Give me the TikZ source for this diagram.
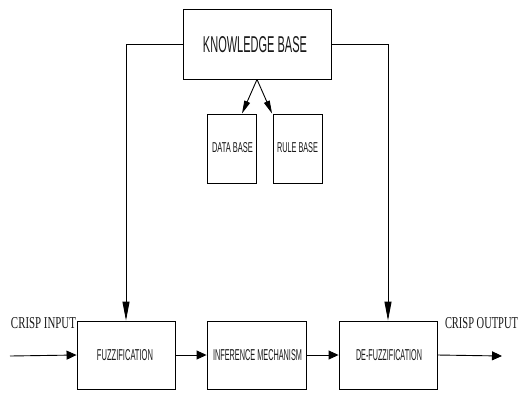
\documentclass[tikz,border=0pt]{standalone}
\usepackage{fontspec}
\setmainfont{Liberation Serif}
\setsansfont{Liberation Sans}
\usetikzlibrary{arrows.meta}
\newcommand{\fitT}[3]{\resizebox{#1pt}{#2pt}{#3}}
\begin{document}
\begin{tikzpicture}[x=1pt,y=-1pt,
  blk/.style={draw=black,line width=0.9pt,inner sep=0pt,fill=white},
  lbl/.style={inner sep=0pt,text=black!90,font=\sffamily},
  crisp/.style={inner sep=0pt,text=black!90,font=\rmfamily},
  conn/.style={draw=black,line width=0.9pt},
  harr/.style={conn,-{Triangle[length=10pt,width=9pt]}},
  varr/.style={conn,-{Triangle[length=19pt,width=7pt]}},
  sarr/.style={conn,-{Triangle[length=13pt,width=6pt]}}]
\useasboundingbox[fill=white] (0,0) rectangle (520,392);
\node[blk,minimum width=148pt,minimum height=70pt] (kb) at (257,44) {};
\node[lbl] (kbt) at (255,45) {\fitT{104}{16}{KNOWLEDGE BASE}};
\node[blk,minimum width=49pt,minimum height=69pt] (db) at (231.5,148.5) {};
\node[lbl] (dbt) at (232.5,148) {\fitT{41}{10}{DATA BASE}};
\node[blk,minimum width=49pt,minimum height=69pt] (rb) at (297.5,148.5) {};
\node[lbl] (rbt) at (297.5,148) {\fitT{41}{10}{RULE BASE}};
\node[blk,minimum width=98pt,minimum height=68pt] (fz) at (126,355) {};
\node[lbl] (fzt) at (125,355.5) {\fitT{56}{11}{FUZZIFICATION}};
\node[blk,minimum width=99pt,minimum height=68pt] (inf) at (256.5,355) {};
\node[lbl] (inft) at (257.5,355.5) {\fitT{89}{11}{INFERENCE MECHANISM}};
\node[blk,minimum width=98pt,minimum height=68pt] (dz) at (388,355) {};
\node[lbl] (dzt) at (389,355.5) {\fitT{66}{11}{DE-FUZZIFICATION}};
\node[crisp] (ci) at (43.5,323.5) {\fitT{65}{11}{CRISP INPUT}};
\node[crisp] (co) at (481.5,323.5) {\fitT{73}{11}{CRISP OUTPUT}};
\coordinate (in) at (10,356);
\coordinate (out) at (502,356);
\draw[varr] (kb.west) -| (fz.north);
\draw[varr] (kb.east) -| (dz.north);
\draw[sarr] (kb.south) -- ([xshift=10.5pt]db.north);
\draw[sarr] (kb.south) -- ([xshift=-0.5pt]rb.north west);
\draw[harr] (in) -- (fz.west);
\draw[harr] (fz.east) -- (inf.west);
\draw[harr] (inf.east) -- (dz.west);
\draw[harr] (dz.east) -- (out);
\end{tikzpicture}
\end{document}
